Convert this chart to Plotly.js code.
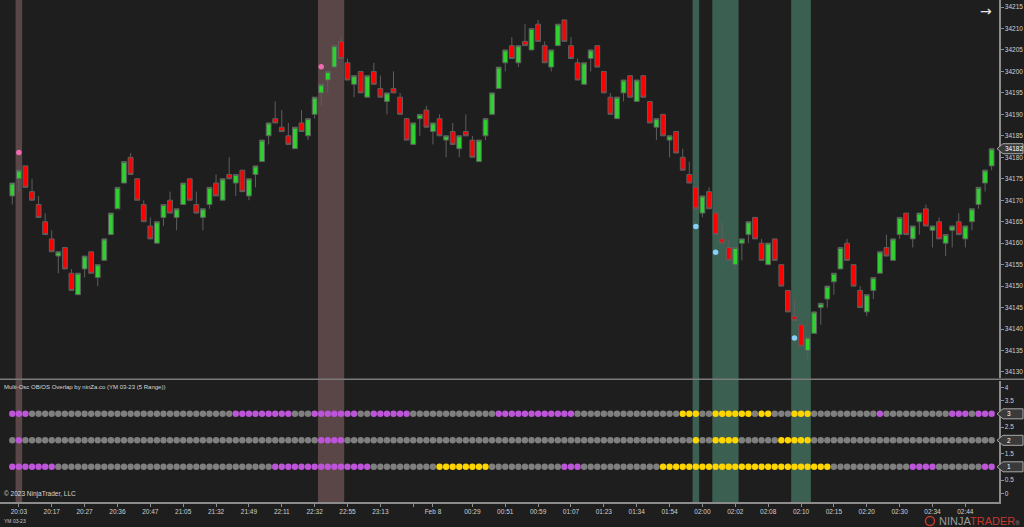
<!DOCTYPE html>
<html>
<head>
<meta charset="utf-8">
<script src="https://cdn.plot.ly/plotly-3.0.1.min.js"></script>
<style>
html,body{margin:0;padding:0;background:#1e1e1e;}
#chart{width:1024px;height:527px;}
</style>
</head>
<body>
<div id="chart"></div>
<script>
// ---- price bars (YM 03-23, 5 Range) ----
const openP = [
34171,34175,34178,34172,34169,34165,34161,34157,34159,34153,
34148,34154,34158,34152,34156,34162,34168,34174,34180,34175,
34169,34164,34160,34166,34170,34166,34169,34175,34169,34166,
34169,34174,34170,34176,34174,34177,34171,34176,34179,34185,
34189,34187,34185,34182,34188,34185,34190,34195,34198,34201,
34207,34202,34197,34200,34194,34200,34196,34193,34196,34194,
34189,34183,34189,34191,34186,34189,34184,34186,34182,34186,
34184,34179,34185,34190,34196,34202,34206,34202,34207,34205,
34211,34206,34201,34206,34212,34206,34202,34197,34203,34206,
34200,34194,34189,34195,34199,34193,34199,34193,34187,34190,
34184,34186,34180,34176,34173,34167,34172,34167,34161,34159,
34155,34160,34162,34166,34160,34155,34161,34155,34149,34143,
34141,34135,34139,34145,34147,34151,34154,34160,34155,34149,
34144,34149,34153,34159,34156,34162,34167,34161,34165,34168,
34163,34165,34160,34163,34165,34161,34165,34169,34174,34178];
const highP = [
34174,34177,34178,34175,34171,34167,34163,34158,34159,34154,
34153,34157,34158,34155,34161,34167,34173,34179,34181,34175,
34170,34166,34165,34169,34172,34168,34174,34175,34172,34168,
34173,34176,34175,34180,34176,34177,34175,34178,34184,34188,
34193,34191,34188,34187,34191,34189,34194,34197,34200,34206,
34208,34203,34199,34200,34199,34202,34199,34195,34200,34195,
34189,34188,34190,34192,34188,34190,34185,34188,34185,34190,
34185,34184,34189,34195,34201,34205,34208,34206,34211,34210,
34212,34207,34205,34211,34212,34208,34203,34202,34205,34206,
34200,34195,34194,34198,34199,34198,34199,34193,34189,34190,
34185,34186,34182,34179,34173,34171,34173,34167,34165,34161,
34159,34161,34165,34166,34161,34160,34161,34155,34149,34147,
34141,34138,34144,34146,34150,34153,34159,34161,34155,34150,
34148,34152,34158,34162,34161,34166,34167,34164,34167,34169,
34164,34166,34162,34164,34167,34164,34168,34173,34177,34182];
const lowP = [
34169,34172,34173,34170,34166,34162,34158,34153,34154,34149,
34148,34152,34153,34150,34156,34162,34168,34174,34176,34170,
34165,34161,34160,34164,34167,34163,34169,34170,34167,34163,
34168,34171,34170,34175,34171,34172,34170,34173,34179,34183,
34188,34186,34183,34182,34186,34184,34189,34192,34195,34201,
34203,34198,34194,34195,34194,34197,34194,34190,34195,34190,
34184,34183,34185,34187,34183,34185,34180,34183,34180,34185,
34180,34179,34184,34190,34196,34200,34203,34201,34206,34205,
34207,34202,34200,34206,34207,34203,34198,34197,34200,34201,
34195,34190,34189,34193,34194,34193,34194,34188,34184,34185,
34180,34181,34177,34174,34168,34166,34168,34162,34160,34156,
34154,34156,34160,34161,34156,34155,34156,34150,34144,34142,
34136,34133,34139,34141,34145,34148,34154,34156,34150,34145,
34143,34147,34153,34157,34156,34161,34162,34159,34162,34164,
34159,34161,34157,34159,34162,34159,34163,34168,34172,34177];
const closeP = [
34174,34177,34173,34170,34166,34162,34158,34158,34154,34149,
34153,34157,34153,34155,34161,34167,34173,34179,34176,34170,
34165,34161,34165,34169,34167,34168,34174,34170,34167,34168,
34173,34171,34175,34175,34176,34172,34175,34178,34184,34188,
34188,34186,34183,34187,34186,34189,34194,34197,34200,34206,
34203,34198,34199,34195,34199,34197,34194,34195,34195,34190,
34184,34188,34190,34187,34188,34185,34185,34183,34185,34185,
34180,34184,34189,34195,34201,34205,34203,34206,34206,34210,
34207,34202,34205,34211,34207,34203,34198,34202,34205,34201,
34195,34190,34194,34198,34194,34198,34194,34188,34189,34185,
34185,34181,34177,34174,34168,34171,34168,34162,34160,34156,
34159,34161,34165,34161,34156,34160,34156,34150,34144,34142,
34136,34138,34144,34146,34150,34153,34159,34156,34150,34145,
34148,34152,34158,34157,34161,34166,34162,34164,34167,34164,
34164,34161,34162,34164,34162,34164,34168,34173,34177,34182];

// ---- oscillator states per row: 1 = overbought, -1 = oversold, 0 = neutral ----
const osc3 = [
1,1,1,0,0,0,0,0,0,0,
0,0,0,0,0,0,0,0,0,0,
0,0,0,0,0,0,0,0,0,0,
0,0,0,0,1,1,1,1,1,1,
1,1,1,0,0,0,1,1,1,1,
1,1,1,0,0,1,1,1,1,1,
1,0,0,0,0,0,0,0,0,0,
0,0,0,0,1,1,1,1,1,1,
1,1,1,1,1,1,0,0,0,0,
0,0,0,0,0,0,0,0,0,0,
0,0,-1,-1,-1,0,0,-1,-1,-1,
-1,-1,-1,0,-1,-1,0,0,0,-1,
-1,-1,0,0,0,0,0,0,0,0,
0,0,1,0,0,0,0,0,0,0,
0,0,0,1,1,1,0,1,1,1];
const osc2 = [
0,1,0,0,0,0,0,0,0,0,
0,0,0,0,0,0,0,0,0,0,
0,0,0,0,0,0,0,0,0,0,
0,0,0,0,0,0,0,0,0,0,
0,0,0,0,0,0,0,1,1,1,
1,0,0,0,0,0,0,0,0,0,
0,0,0,0,0,0,0,0,0,0,
0,0,0,0,0,0,0,0,0,0,
0,0,0,0,0,0,0,0,0,0,
0,0,0,0,0,0,0,0,0,0,
0,0,0,0,-1,0,0,-1,-1,-1,
-1,0,0,0,0,0,0,-1,-1,-1,
-1,-1,0,0,0,0,0,0,0,0,
0,0,0,0,0,0,0,0,0,0,
0,0,0,0,0,0,0,0,0,0];
const osc1 = [
1,1,1,1,1,1,1,0,0,0,
0,0,0,0,0,0,0,0,0,0,
0,0,0,0,0,0,0,0,0,0,
0,0,0,0,0,0,0,0,0,0,
1,1,1,1,1,1,1,1,1,1,
1,1,1,1,1,0,0,0,0,0,
0,0,0,0,0,-1,-1,-1,-1,-1,
-1,-1,-1,0,0,0,0,0,0,0,
0,0,0,0,1,1,1,0,0,0,
0,0,0,0,0,0,0,0,0,-1,
-1,-1,-1,-1,-1,-1,-1,-1,-1,-1,
-1,-1,-1,-1,-1,-1,-1,-1,-1,-1,
-1,-1,-1,-1,-1,0,0,0,0,0,
0,0,0,0,0,0,0,1,1,1,
1,0,0,0,0,0,0,0,1,1];
const oscRows = [3, 2, 1];

// ---- time axis labels (bar index -> label) ----
const tickBars = [1,6,11,16,21,26,31,36,41,46,51,56,61,64,70,75,80,85,90,95,100,105,110,115,120,125,130,135,140,145];
const tickLabels = ['20:03','20:17','20:27','20:36','20:47','21:05','21:32','21:49','22:11','22:32','22:55','23:13','','Feb 8',
  '00:29','00:51','00:59','01:07','01:23','01:34','01:54','02:00','02:02','02:08','02:10','02:15','02:20','02:30','02:34','02:44'];

const priceTicks = [34130,34135,34140,34145,34150,34155,34160,34165,34170,34175,34180,34185,34190,34195,34200,34205,34210,34215];
const oscTicks = [0,0.5,1,1.5,2,2.5,3,3.5,4];
const oscTickText = ['0','0.5','','1.5','','2.5','','3.5','4'];

// ---------------------------------------------------------------
const N = closeP.length;
const xIdx = openP.map((_, i) => i);
const BG = '#1e1e1e';
const FONT = 'Liberation Sans, Arial, sans-serif';
const COL = {gray:'#7f7f7f', ob:'#bd55d8', os:'#ffd500', bandOB:'#5a4547', bandOS:'#3b5f51', dotOB:'#f06ab4', dotOS:'#87cefa'};

const traces = [];
traces.push({
  type:'candlestick', x:xIdx, open:openP, high:highP, low:lowP, close:closeP,
  xaxis:'x', yaxis:'y',
  increasing:{fillcolor:'#2fd02f', line:{color:'#5e5e5e', width:1}},
  decreasing:{fillcolor:'#ff0000', line:{color:'#5e5e5e', width:1}},
  whiskerwidth:0, hoverinfo:'skip', showlegend:false
});

// lower-panel dots from oscillator rows
const rowArrays = [osc3, osc2, osc1];
[[0, COL.gray], [1, COL.ob], [-1, COL.os]].forEach(([state, color]) => {
  const xs = [], ys = [];
  rowArrays.forEach((arr, r) => {
    arr.forEach((v, i) => { if (v === state) { xs.push(i); ys.push(oscRows[r]); } });
  });
  traces.push({type:'scatter', mode:'markers', x:xs, y:ys, xaxis:'x', yaxis:'y2',
    marker:{color:color, size:6.4, line:{width:0}}, hoverinfo:'skip', showlegend:false});
});

// overlap zones: all three oscillators agree
const overlap = xIdx.map(i => (osc2[i] !== 0 && osc1[i] === osc2[i] && osc3[i] === osc2[i]) ? osc2[i] : 0);
const shapes = [];
const obDotX = [], obDotY = [], osDotX = [], osDotY = [];
const DOT_OFF = 4.1;
let i = 0;
while (i < N) {
  if (overlap[i] !== 0) {
    const s = overlap[i]; let j = i;
    while (j + 1 < N && overlap[j + 1] === s) j++;
    shapes.push({type:'rect', xref:'x', yref:'paper', x0:i - 0.5, x1:j + 0.5, y0:0, y1:1,
      fillcolor: s > 0 ? COL.bandOB : COL.bandOS, line:{width:0}, layer:'below'});
    if (s > 0) { obDotX.push(i); obDotY.push(highP[i] + DOT_OFF); }
    else { osDotX.push(i); osDotY.push(lowP[i] - DOT_OFF); }
    i = j + 1;
  } else i++;
}
traces.push({type:'scatter', mode:'markers', x:obDotX, y:obDotY, xaxis:'x', yaxis:'y',
  marker:{color:COL.dotOB, size:5.5}, hoverinfo:'skip', showlegend:false});
traces.push({type:'scatter', mode:'markers', x:osDotX, y:osDotY, xaxis:'x', yaxis:'y',
  marker:{color:COL.dotOS, size:5.5}, hoverinfo:'skip', showlegend:false});

// separator between panels
shapes.push({type:'line', xref:'paper', yref:'paper', x0:0, x1:1.03, y0:0.2445, y1:0.2445,
  line:{color:'#7a7a7a', width:1.5}, layer:'above'});

// price / value markers on the right axis
function marker(yref, yval) {
  return {type:'path', xref:'paper', yref:yref, xsizemode:'pixel', ysizemode:'pixel',
    xanchor:1, yanchor:yval, path:'M -2 0 L 4 5 L 24 5 L 24 -5 L 4 -5 Z',
    fillcolor:'#3a3a3a', line:{color:'#a8a8a8', width:1}, layer:'above'};
}
const lastClose = closeP[N - 1];
shapes.push(marker('y', lastClose));
oscRows.forEach(v => shapes.push(marker('y2', v)));

// logo circle
shapes.push({type:'circle', xref:'paper', yref:'paper', xsizemode:'pixel', ysizemode:'pixel',
  xanchor:930/999, yanchor:-0.038, x0:-4.5, x1:4.5, y0:-4.5, y1:4.5,
  line:{color:'#c0392b', width:1.5}, fillcolor:'rgba(0,0,0,0)'});

const annotations = [
  {xref:'paper', yref:'y', x:1, y:lastClose, xanchor:'left', xshift:4, text:String(lastClose),
   showarrow:false, font:{family:FONT, size:6.5, color:'#ffffff'}},
  ...oscRows.map(v => ({xref:'paper', yref:'y2', x:1, y:v, xanchor:'left', xshift:6, text:String(v),
   showarrow:false, font:{family:FONT, size:6.5, color:'#ffffff'}})),
  {xref:'paper', yref:'paper', x:0, y:0.229, xanchor:'left', yanchor:'middle', xshift:2,
   text:'Multi-Osc OB/OS Overlap by ninZa.co (YM 03-23 (5 Range))', showarrow:false,
   font:{family:FONT, size:6, color:'#d8d8d8'}},
  {xref:'paper', yref:'paper', x:0, y:0.0165, xanchor:'left', yanchor:'middle', xshift:2,
   text:'© 2023 NinjaTrader, LLC', showarrow:false, font:{family:FONT, size:6.5, color:'#d8d8d8'}},
  {xref:'paper', yref:'paper', x:0, y:-0.038, xanchor:'left', yanchor:'middle', xshift:2,
   text:'YM 03-23', showarrow:false, font:{family:FONT, size:5, color:'#c8c8c8'}},
  {xref:'paper', yref:'paper', x:937/999, y:-0.038, xanchor:'left', yanchor:'middle',
   text:'<span style="color:#9a9a9a">NINJA</span><span style="color:#c8372d">TRADER</span><span style="color:#9a9a9a;font-size:6px">®</span>',
   showarrow:false, font:{family:FONT, size:11, color:'#9a9a9a'}},
  {xref:'paper', yref:'paper', x:986/999, y:(502 - 11) / 502, xanchor:'center', yanchor:'middle',
   text:'→', showarrow:false, font:{family:'DejaVu Sans, sans-serif', size:14, color:'#e6e6e6'}}
];

const layout = {
  width:1024, height:527,
  margin:{l:0, r:25, t:0, b:25, pad:0},
  paper_bgcolor:BG, plot_bgcolor:BG,
  showlegend:false, hovermode:false, dragmode:false,
  boxgap:0.27, boxgroupgap:0,
  font:{family:FONT, color:'#cfcfcf', size:6.5},
  xaxis:{
    domain:[0,1], anchor:'y2', range:[-1.871, 150.12],
    rangeslider:{visible:false}, showgrid:false, zeroline:false,
    showline:true, linecolor:'#8c8c8c', linewidth:1.5,
    tickmode:'array', tickvals:tickBars, ticktext:tickLabels,
    ticks:'outside', ticklen:3, tickwidth:1, tickcolor:'#8c8c8c',
    tickfont:{family:FONT, size:6.5, color:'#cfcfcf'}, fixedrange:true
  },
  yaxis:{
    domain:[0.247, 1], anchor:'x', side:'right', range:[34128.6, 34216.63],
    showgrid:false, zeroline:false, showline:true, linecolor:'#8c8c8c', linewidth:1.5,
    tickmode:'array', tickvals:priceTicks, ticktext:priceTicks.map(String),
    ticks:'outside', ticklen:3, tickcolor:'#8c8c8c',
    tickfont:{family:FONT, size:6.5, color:'#cfcfcf'}, fixedrange:true
  },
  yaxis2:{
    domain:[0, 0.241], anchor:'x', side:'right', range:[-0.328, 4.238],
    showgrid:false, zeroline:false, showline:true, linecolor:'#8c8c8c', linewidth:1.5,
    tickmode:'array', tickvals:oscTicks, ticktext:oscTickText,
    ticks:'outside', ticklen:3, tickcolor:'#8c8c8c',
    tickfont:{family:FONT, size:6.5, color:'#cfcfcf'}, fixedrange:true
  },
  shapes:shapes,
  annotations:annotations
};

Plotly.newPlot('chart', traces, layout, {displayModeBar:false, staticPlot:true});
</script>
</body>
</html>
